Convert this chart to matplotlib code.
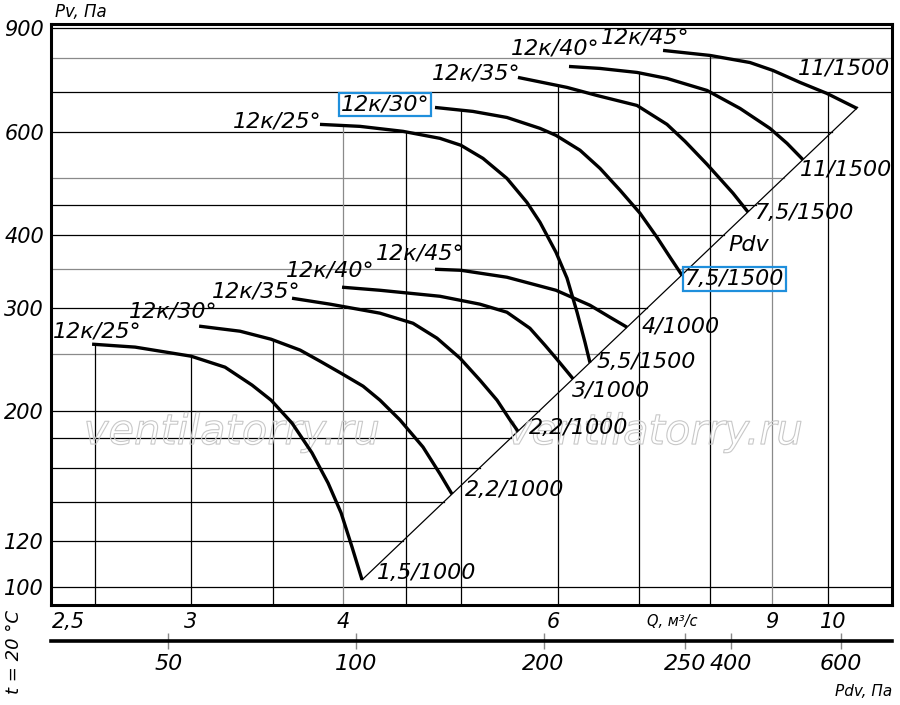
import numpy as np
import matplotlib.pyplot as plt
import matplotlib.patheffects as pe
from matplotlib.ticker import NullLocator

# flow Q, m3/s  and static pressure Pv, Pa
# 1000 rpm group
lower_25_q = [2.488, 2.699, 3.000, 3.199, 3.367, 3.490, 3.631, 3.771, 3.887, 3.984, 4.067, 4.145]
lower_25_p = [260.0, 257.0, 248.0, 237.5, 221.3, 208.6, 190.6, 169.5, 150.6, 133.9, 117.1, 102.9]
lower_30_q = [3.046, 3.291, 3.490, 3.687, 3.828, 3.984, 4.153, 4.288, 4.453, 4.651, 4.803, 4.913]
lower_30_p = [279.1, 273.6, 265.1, 254.0, 243.2, 231.9, 220.4, 208.6, 193.0, 173.5, 156.1, 144.2]
lower_35_q = [3.631, 3.902, 4.288, 4.564, 4.776, 4.988, 5.180, 5.350, 5.483, 5.566]
lower_35_p = [311.5, 304.3, 293.7, 282.3, 266.2, 246.1, 225.7, 208.6, 193.0, 184.6]
lower_40_q = [3.991, 4.288, 4.803, 5.180, 5.451, 5.693, 5.858, 5.981, 6.095, 6.177]
lower_40_p = [325.3, 321.4, 313.9, 304.3, 294.8, 276.8, 258.9, 246.1, 234.7, 226.9]
lower_45_q = [4.758, 4.997, 5.451, 5.981, 6.378, 6.625, 6.841]
lower_45_p = [349.1, 347.7, 338.3, 321.4, 303.0, 289.0, 277.9]
# 1500 rpm group
upper_25_q = [3.828, 4.129, 4.479, 4.803, 4.997, 5.210, 5.451, 5.661, 5.803, 5.981,
              6.107, 6.224, 6.318, 6.378]
upper_25_p = [617.2, 612.4, 600.5, 584.2, 568.5, 539.9, 499.1, 454.2, 419.9, 373.2,
              337.1, 294.8, 262.0, 241.8]
upper_30_q = [4.758, 5.112, 5.451, 5.803, 5.981, 6.259, 6.500, 6.751, 7.011, 7.240, 7.420, 7.590]
upper_30_p = [659.7, 649.5, 634.2, 607.6, 591.1, 557.5, 519.2, 476.4, 435.1, 395.8, 366.0, 341.0]
upper_35_q = [5.566, 6.107, 6.463, 6.971, 7.378, 7.634, 7.958, 8.359, 8.599]
upper_35_p = [742.4, 713.8, 691.5, 664.9, 617.2, 577.3, 527.5, 470.8, 437.2]
upper_40_q = [6.130, 6.500, 6.971, 7.378, 7.958, 8.471, 8.963, 9.258, 9.540]
upper_40_p = [775.1, 769.1, 757.1, 739.5, 705.3, 657.1, 607.6, 572.8, 537.3]
upper_45_q = [7.323, 8.001, 8.631, 9.014, 9.487, 9.983, 10.569]
upper_45_p = [825.6, 809.5, 787.2, 763.1, 728.0, 697.1, 657.1]

start_labels = ["12к/25°", "12к/30°", "12к/35°", "12к/40°", "12к/45°"] * 2
end_labels = ["1,5/1000", "2,2/1000", "2,2/1000", "3/1000", "4/1000",
              "5,5/1500", "7,5/1500", "7,5/1500", "11/1500", "11/1500"]

# dynamic pressure line Pdv
pdv_line_q = [4.145, 10.58]
pdv_line_p = [102.9, 659.7]

y_ticks = [100, 120, 200, 300, 400, 600, 900]
grid_p = [100, 120, 140, 160, 180, 200, 250, 300, 350, 400, 450, 500, 600, 700, 800, 900]
grid_q = [2.5, 3, 3.5, 4, 4.5, 5, 6, 7, 8, 9, 10]
q_labels = ["2,5", "3", "4", "6", "9", "10"]
q_label_pos = [2.38, 3.0, 4.0, 5.95, 9.0, 10.1]
pdv_ticks = [50, 100, 200, 337, 400, 600]
pdv_labels = ["50", "100", "200", "250", "400", "600"]

curves_q = [lower_25_q, lower_30_q, lower_35_q, lower_40_q, lower_45_q,
            upper_25_q, upper_30_q, upper_35_q, upper_40_q, upper_45_q]
curves_p = [lower_25_p, lower_30_p, lower_35_p, lower_40_p, lower_45_p,
            upper_25_p, upper_30_p, upper_35_p, upper_40_p, upper_45_p]

# label offsets in pixels
start_off = [(5, 13), (-26, 15), (-36, 7), (-12, 17), (-15, 16),
             (-43, 3), (-50, 3), (-42, 4), (-14, 18), (-18, 13)]
end_off = [(15, 7), (13, 4), (11, 3), (-1, -12), (15, 1),
           (7, 1), (3, -4), (7, -1), (-3, -10), (-59, 40)]
boxed_start = 6   # 12к/30° of the 1500 group
boxed_end = 6     # its 7,5/1500

xlim = (2.302, 11.29)
ylim = (93.2, 916)
W, H = 900, 705
box = dict(boxstyle="square,pad=0.08", fc="none", ec="#1f8fdc", lw=1.6)

fig = plt.figure(figsize=(9, 7.05), dpi=100)
ax = fig.add_axes([51 / W, 1 - 605 / H, 841 / W, 581 / H])
ax.set_xscale("log")
ax.set_yscale("log")
ax.set_xlim(*xlim)
ax.set_ylim(*ylim)
ax.xaxis.set_major_locator(NullLocator())
ax.xaxis.set_minor_locator(NullLocator())
ax.yaxis.set_minor_locator(NullLocator())
ax.set_yticks(y_ticks, [str(v) for v in y_ticks])
ax.tick_params(axis="y", length=0, pad=5, labelsize=15)
for t in ax.get_yticklabels():
    t.set_style("italic")
for side in ax.spines:
    ax.spines[side].set_linewidth(2.2)

gray_q = [4, 9]
gray_p = [250, 350, 500, 800]

# horizontal grid lines end on the Pdv line
kexp = np.log(pdv_line_q[1] / pdv_line_q[0]) / np.log(pdv_line_p[1] / pdv_line_p[0])
for p in grid_p:
    if pdv_line_p[0] <= p <= pdv_line_p[1]:
        qe = pdv_line_q[0] * (p / pdv_line_p[0]) ** kexp
    else:
        qe = xlim[1]
    col = "#8a8a8a" if p in gray_p else "black"
    ax.plot([xlim[0], qe], [p, p], color=col, lw=0.9, zorder=1)

# vertical grid lines end on the highest curve
for q in grid_q:
    tops = []
    for cq, cp in zip(curves_q, curves_p):
        if cq[0] <= q <= cq[-1]:
            tops.append(np.exp(np.interp(np.log(q), np.log(cq), np.log(cp))))
    top = max(tops) if tops else ylim[1]
    col = "#8a8a8a" if q in gray_q else "black"
    ax.plot([q, q], [ylim[0], top], color=col, lw=0.9, zorder=1)

ax.plot(pdv_line_q, pdv_line_p, color="black", lw=0.9, zorder=2)

for i, (cq, cp) in enumerate(zip(curves_q, curves_p)):
    ax.plot(cq, cp, color="black", lw=2.4, solid_capstyle="butt",
            solid_joinstyle="round", zorder=4)
    t1 = ax.annotate(start_labels[i], (cq[0], cp[0]), xytext=start_off[i],
                     textcoords="offset pixels", ha="center", va="center",
                     fontsize=16, style="italic", zorder=5)
    t2 = ax.annotate(end_labels[i], (cq[-1], cp[-1]), xytext=end_off[i],
                     textcoords="offset pixels", ha="left", va="center",
                     fontsize=16, style="italic", zorder=5)
    if i == boxed_start:
        t1.set_bbox(box)
    if i == boxed_end:
        t2.set_bbox(dict(box))

ax.text(8.28, 384, "Pdv", ha="left", va="center", fontsize=16, style="italic")

# watermark
for xq in [3.24, 7.21]:
    ax.text(xq, 184, "ventilatorry.ru", ha="center", va="center", fontsize=30,
            style="italic", color="none", zorder=3,
            path_effects=[pe.Stroke(linewidth=0.8, foreground="#c8c8c8")])

# Q labels under the plot
for lab, q in zip(q_labels, q_label_pos):
    ax.text(q, -(622 - 605) / 581, lab, transform=ax.get_xaxis_transform(),
            ha="center", va="center", fontsize=15, style="italic")
fig.text(672 / W, 1 - 622 / H, "Q, м³/с", ha="center", va="center",
         fontsize=10.5, style="italic")

# Pdv scale
ax2 = fig.add_axes([51 / W, 1 - 641 / H, 841 / W, 0.0001])
ax2.set_xscale("log")
ax2.set_xlim(32.39, 724.9)
ax2.xaxis.set_minor_locator(NullLocator())
ax2.set_xticks(pdv_ticks, pdv_labels)
ax2.set_yticks([])
for side in ["left", "right", "top"]:
    ax2.spines[side].set_visible(False)
ax2.spines["bottom"].set_linewidth(2.6)
ax2.tick_params(axis="x", direction="inout", length=12, width=1, color="#888888",
                pad=3, labelsize=16)
for t in ax2.get_xticklabels():
    t.set_style("italic")
ax2.patch.set_visible(False)

fig.text(55 / W, 1 - 12 / H, "Pv, Па", ha="left", va="center", fontsize=12, style="italic")
fig.text(892 / W, 1 - 692 / H, "Pdv, Па", ha="right", va="center", fontsize=11, style="italic")
fig.text(14 / W, 1 - 652 / H, "t = 20 °C", ha="center", va="center", rotation=90,
         fontsize=13, style="italic")

fig.savefig("out.png", dpi=100)
